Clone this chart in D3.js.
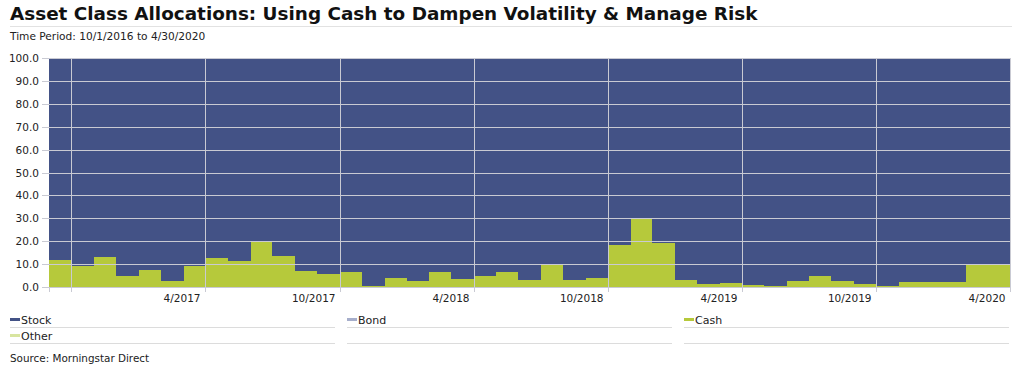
<!DOCTYPE html>
<html>
<head>
<meta charset="utf-8">
<script src="https://cdn.jsdelivr.net/npm/d3@7"></script>
<style>
    body { margin: 0; background: #fff; font-family: "DejaVu Sans", Verdana, sans-serif; }
    svg text { fill: #222; }
</style>
</head>
<body>
<div id="chart"></div>
<script>
// monthly observations, 10/2016 .. 4/2020
const months = [
    "10/2016", "11/2016", "12/2016", "1/2017", "2/2017", "3/2017", "4/2017", "5/2017", "6/2017",
    "7/2017", "8/2017", "9/2017", "10/2017", "11/2017", "12/2017", "1/2018", "2/2018", "3/2018",
    "4/2018", "5/2018", "6/2018", "7/2018", "8/2018", "9/2018", "10/2018", "11/2018", "12/2018",
    "1/2019", "2/2019", "3/2019", "4/2019", "5/2019", "6/2019", "7/2019", "8/2019", "9/2019",
    "10/2019", "11/2019", "12/2019", "1/2020", "2/2020", "3/2020", "4/2020"
];

const cash = [
    11.9, 9.2, 13.3, 5.0, 7.6, 2.6, 9.2, 12.8, 11.2, 20.0, 13.4, 6.8, 5.6, 6.5, 0.5,
    3.8, 2.8, 6.4, 3.5, 4.9, 6.4, 2.9, 10.0, 3.2, 4.1, 18.2, 30.2, 19.4, 3.2, 1.4,
    1.8, 0.8, 0.6, 2.6, 4.9, 2.6, 1.4, 0.6, 2.0, 2.0, 2.3, 10.1, 10.1
];
const stock = [
    88.1, 90.8, 86.7, 95.0, 92.4, 97.4, 90.8, 87.2, 88.8, 80.0, 86.6, 93.2, 94.4, 93.5, 99.5,
    96.2, 97.2, 93.6, 96.5, 95.1, 93.6, 97.1, 90.0, 96.8, 95.9, 81.8, 69.8, 80.6, 96.8, 98.6,
    98.2, 99.2, 99.4, 97.4, 95.1, 97.4, 98.6, 99.4, 98.0, 98.0, 97.7, 89.9, 89.9
];
const bond = new Array(months.length).fill(0);
const other = new Array(months.length).fill(0);

const yTicks = [0, 10, 20, 30, 40, 50, 60, 70, 80, 90, 100];
// gridlines sit at the end of these months; the first one has no label
const gridMonths = ["10/2016", "4/2017", "10/2017", "4/2018", "10/2018", "4/2019", "10/2019", "4/2020"];

const legendItems = [
    { name: "Stock", color: "#435286" },
    { name: "Bond", color: "#a6aecb" },
    { name: "Cash", color: "#b6c93b" },
    { name: "Other", color: "#d8e5a0" }
];

const W = 1021, H = 370;
const margin = { top: 58, right: 11, bottom: 83, left: 49 };

const svg = d3.select("#chart").append("svg")
    .attr("width", W)
    .attr("height", H);

// title block
svg.append("text")
    .attr("x", 10).attr("y", 20)
    .style("font-size", "18.4px")
    .style("font-weight", "bold")
    .style("fill", "#111")
    .text("Asset Class Allocations: Using Cash to Dampen Volatility & Manage Risk");

svg.append("line")
    .attr("x1", 10).attr("x2", 1012)
    .attr("y1", 26.5).attr("y2", 26.5)
    .style("stroke", "#e2e2e2");

svg.append("text")
    .attr("x", 10).attr("y", 40)
    .style("font-size", "10.6px")
    .text("Time Period: 10/1/2016 to 4/30/2020");

const x = d3.scaleBand()
    .domain(months)
    .range([margin.left, W - margin.right])
    .padding(0);

const y = d3.scaleLinear()
    .domain([0, 100])
    .range([H - margin.bottom, margin.top]);

const table = months.map((m, i) => ({
    month: m, Cash: cash[i], Other: other[i], Bond: bond[i], Stock: stock[i]
}));

const keys = ["Cash", "Other", "Bond", "Stock"];
const colorOf = d3.scaleOrdinal()
    .domain(legendItems.map(d => d.name))
    .range(legendItems.map(d => d.color));

const series = d3.stack().keys(keys)(table);

svg.append("g")
    .selectAll("g")
    .data(series)
    .join("g")
    .style("fill", d => colorOf(d.key))
    .selectAll("rect")
    .data(d => d)
    .join("rect")
    .attr("x", d => x(d.data.month))
    .attr("width", x.bandwidth() + 0.5)
    .attr("y", d => y(d[1]))
    .attr("height", d => y(d[0]) - y(d[1]))
    .attr("shape-rendering", "crispEdges");

// horizontal grid
svg.append("g")
    .selectAll("line")
    .data(yTicks)
    .join("line")
    .attr("x1", margin.left - 7)
    .attr("x2", W - margin.right)
    .attr("y1", d => Math.round(y(d)) + 0.5)
    .attr("y2", d => Math.round(y(d)) + 0.5)
    .style("stroke", "#c9cad3")
    .style("stroke-width", 1);

svg.append("g")
    .selectAll("text")
    .data(yTicks)
    .join("text")
    .attr("x", 39)
    .attr("y", d => y(d) + 4)
    .attr("text-anchor", "end")
    .style("font-size", "10.5px")
    .text(d => d.toFixed(1));

// vertical grid + ticks
const gx = m => Math.round(x(m) + x.bandwidth()) + 0.5;

svg.append("g")
    .selectAll("line")
    .data(gridMonths)
    .join("line")
    .attr("x1", gx).attr("x2", gx)
    .attr("y1", margin.top)
    .attr("y2", H - margin.bottom + 5)
    .style("stroke", "#c9cad3");

svg.append("line")
    .attr("x1", margin.left + 0.5).attr("x2", margin.left + 0.5)
    .attr("y1", H - margin.bottom)
    .attr("y2", H - margin.bottom + 5)
    .style("stroke", "#c9cad3");

// right border
svg.append("line")
    .attr("x1", W - margin.right + 0.5).attr("x2", W - margin.right + 0.5)
    .attr("y1", margin.top)
    .attr("y2", H - margin.bottom)
    .style("stroke", "#c9cad3");

svg.append("g")
    .selectAll("text")
    .data(gridMonths.slice(1))
    .join("text")
    .attr("x", d => gx(d) - 5)
    .attr("y", H - margin.bottom + 15)
    .attr("text-anchor", "end")
    .style("font-size", "10.5px")
    .text(d => d);

// legend, three columns with rules under each entry
const colX = [10, 347, 684];
const colW = 325;
const legend = svg.append("g");

legendItems.forEach((d, i) => {
    const cx = colX[i % 3];
    const ry = 324 + Math.floor(i / 3) * 16;
    legend.append("rect")
        .attr("x", cx).attr("y", ry - 6)
        .attr("width", 10).attr("height", 3)
        .style("fill", d.color);
    legend.append("text")
        .attr("x", cx + 11).attr("y", ry)
        .style("font-size", "11px")
        .text(d.name);
});

[0, 1].forEach(r => {
    colX.forEach(cx => {
        legend.append("line")
            .attr("x1", cx).attr("x2", cx + colW)
            .attr("y1", 327.5 + r * 16).attr("y2", 327.5 + r * 16)
            .style("stroke", "#dcdcdc");
    });
});

svg.append("text")
    .attr("x", 10).attr("y", 362)
    .style("font-size", "10.4px")
    .text("Source: Morningstar Direct");
</script>
</body>
</html>
